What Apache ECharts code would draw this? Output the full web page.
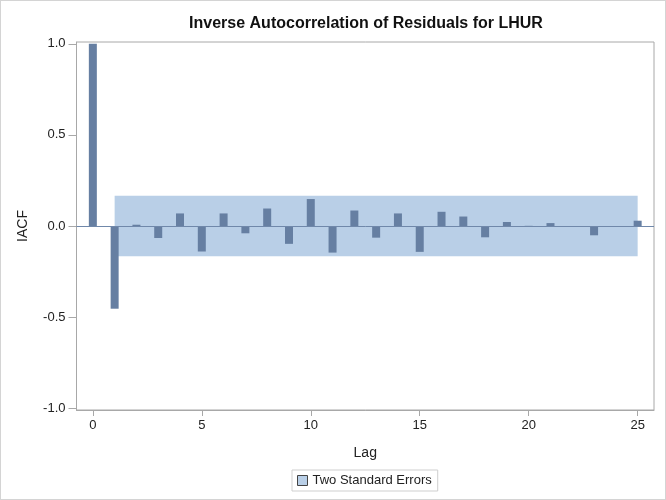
<!DOCTYPE html>
<html>
<head>
<meta charset="utf-8">
<script src="https://cdn.jsdelivr.net/npm/echarts@6/dist/echarts.min.js"></script>
<style>
html,body{margin:0;padding:0;background:#fff;}
#wrap{position:relative;width:666px;height:500px;}
#chart{position:absolute;left:0;top:0;width:666px;height:500px;}
#frame{position:absolute;left:0;top:0;width:666px;height:500px;box-sizing:border-box;border:1px solid #d4d4d4;pointer-events:none;}
</style>
</head>
<body>
<div id="wrap"><div id="chart"></div><div id="frame"></div></div>
<script>
const lags = [0,1,2,3,4,5,6,7,8,9,10,11,12,13,14,15,16,17,18,19,20,21,22,23,24,25];
const iacf = [1.0,-0.454,0.007,-0.066,0.069,-0.140,0.069,-0.040,0.096,-0.098,0.148,-0.146,0.085,-0.064,0.069,-0.142,0.078,0.052,-0.062,0.022,0.001,0.016,0.0,-0.051,0.0,0.029];
const bandLags = [1,25];
const bandUpper = 0.1667;
const bandLower = -0.1667;
const xTicks = [0,5,10,15,20,25];
const yTicks = [-1,-0.5,0,0.5,1];

const font = '"Liberation Sans", Arial, sans-serif';
const chart = echarts.init(document.getElementById('chart'));
chart.setOption({
  animation:false,
  textStyle:{fontFamily:font},
  title:{
    text:'Inverse Autocorrelation of Residuals for LHUR',
    left:361, top:11, textAlign:'center',
    textStyle:{fontFamily:font,fontSize:16,fontWeight:'bold',color:'#111'}
  },
  legend:{
    data:[{name:'Two Standard Errors',icon:'rect',itemStyle:{color:'#B9CFE7',borderColor:'#444',borderWidth:1}}],
    left:292, bottom:9,
    itemWidth:10,itemHeight:10,itemGap:6,
    padding:[4,6,4,5],
    borderColor:'#cfcfcf',borderWidth:1,
    textStyle:{fontFamily:font,fontSize:13,color:'#222'}
  },
  grid:{left:76.5,right:12,top:42,bottom:90,show:true,borderColor:'#a8a8a8',borderWidth:1,backgroundColor:'transparent'},
  xAxis:{
    type:'value',min:-0.75,max:25.75,
    name:'Lag',nameLocation:'middle',nameGap:36,
    nameTextStyle:{fontFamily:font,fontSize:14,color:'#222'},
    axisLine:{show:true,onZero:false,lineStyle:{color:'#a8a8a8'}},
    axisTick:{show:true,length:6,customValues:xTicks,lineStyle:{color:'#a8a8a8'}},
    axisLabel:{customValues:xTicks,margin:9,fontSize:13,color:'#222',fontFamily:font},
    splitLine:{show:false}
  },
  yAxis:{
    type:'value',min:-1.01,max:1.01,
    name:'IACF',nameLocation:'middle',nameGap:46,
    nameTextStyle:{fontFamily:font,fontSize:14,color:'#222'},
    axisLine:{show:true,onZero:false,lineStyle:{color:'#a8a8a8'}},
    axisTick:{show:true,length:8,customValues:yTicks,lineStyle:{color:'#a8a8a8'}},
    axisLabel:{customValues:yTicks,margin:11,fontSize:13,color:'#222',fontFamily:font,formatter:v=>v.toFixed(1)},
    splitLine:{show:false}
  },
  series:[
    {
      name:'Two Standard Errors',type:'line',z:1,
      data:bandLags.map(l=>[l,bandUpper]),
      symbol:'none',lineStyle:{width:0,color:'#B9CFE7'},itemStyle:{color:'#B9CFE7'},
      areaStyle:{origin:bandLower,color:'#B9CFE7',opacity:1},
      silent:true
    },
    {
      name:'IACF',type:'bar',z:3,
      data:lags.map((l,i)=>[l,iacf[i]]),
      barWidth:8,
      itemStyle:{color:'#667FA2'},
      markLine:{
        silent:true,symbol:'none',label:{show:false},
        lineStyle:{color:'#7088AA',width:1,type:'solid'},
        data:[{yAxis:0}]
      }
    }
  ]
});
</script>
</body>
</html>
